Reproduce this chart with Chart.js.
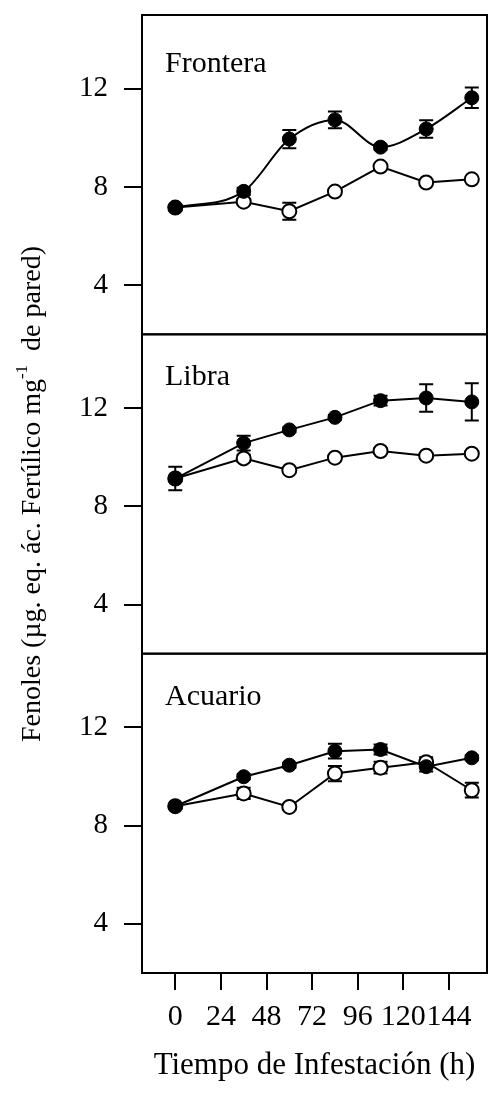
<!DOCTYPE html>
<html>
<head>
<meta charset="utf-8">
<script src="https://cdn.jsdelivr.net/npm/chart.js@4"></script>
<style>
  html, body { margin: 0; padding: 0; background: #fff; }
</style>
</head>
<body>
<canvas id="fenolesChart" width="488" height="1095"></canvas>
<script>
const times = [0, 36, 60, 84, 108, 132, 156];
const xTicks = [0, 24, 48, 72, 96, 120, 144];
const yTicks = [4, 8, 12];
const panelNames = ["Frontera", "Libra", "Acuario"];

// filled = black circles, open = white circles
const fronteraFilled = [7.16, 7.82, 9.95, 10.73, 9.62, 10.36, 11.63];
const fronteraFilledErr = [0.12, 0.15, 0.37, 0.34, 0.1, 0.36, 0.42];
const fronteraOpen = [7.16, 7.4, 7.01, 7.81, 8.83, 8.18, 8.31];
const fronteraOpenErr = [0.1, 0.1, 0.35, 0.1, 0.1, 0.1, 0.1];

const libraFilled = [9.13, 10.57, 11.11, 11.62, 12.3, 12.41, 12.25];
const libraFilledErr = [0.48, 0.3, 0.1, 0.1, 0.2, 0.56, 0.76];
const libraOpen = [9.13, 9.95, 9.47, 9.98, 10.25, 10.06, 10.14];
const libraOpenErr = [0.1, 0.15, 0.1, 0.1, 0.1, 0.1, 0.1];

const acuarioFilled = [8.79, 9.99, 10.46, 11.03, 11.1, 10.4, 10.76];
const acuarioFilledErr = [0.1, 0.1, 0.1, 0.3, 0.2, 0.2, 0.1];
const acuarioOpen = [8.79, 9.31, 8.76, 10.12, 10.36, 10.58, 9.44];
const acuarioOpenErr = [0.1, 0.23, 0.1, 0.31, 0.24, 0.2, 0.3];

const SERIF = "'Liberation Serif', 'Times New Roman', serif";
Chart.defaults.font.family = SERIF;
Chart.defaults.color = "#000";

const toPoints = vals => times.map((t, i) => ({ x: t, y: vals[i] }));

function series(vals, errs, axis, filled, smooth) {
  return {
    data: toPoints(vals),
    errors: errs,
    yAxisID: axis,
    borderColor: "#000",
    borderWidth: 2,
    backgroundColor: filled ? "#000" : "#fff",
    pointBackgroundColor: filled ? "#000" : "#fff",
    pointBorderColor: "#000",
    pointBorderWidth: filled ? 1 : 2,
    pointRadius: 7,
    cubicInterpolationMode: smooth ? "monotone" : "default",
    tension: 0,
    clip: false,
  };
}

function panelScale(weight) {
  return {
    type: "linear",
    position: "left",
    stack: "panels",
    stackWeight: 1,
    weight: weight,
    min: 2,
    max: 15,
    afterBuildTicks: s => { s.ticks = yTicks.map(v => ({ value: v })); },
    afterFit: s => {
      s.width = 82;
      s.paddingTop = 0;
      s.paddingBottom = 0;
    },
    grid: { drawOnChartArea: false, tickLength: 18, color: "#000", lineWidth: 2 },
    border: { display: true, color: "#000", width: 2 },
    ticks: { color: "#000", padding: 16, font: { size: 29 } },
  };
}

const errorBars = {
  id: "errorBars",
  beforeDatasetsDraw(chart) {
    const ctx = chart.ctx;
    ctx.save();
    ctx.strokeStyle = "#000";
    ctx.lineWidth = 2;
    chart.data.datasets.forEach((ds, di) => {
      const meta = chart.getDatasetMeta(di);
      const scale = chart.scales[ds.yAxisID];
      meta.data.forEach((pt, i) => {
        const v = ds.data[i].y, e = ds.errors[i];
        const y1 = scale.getPixelForValue(v + e);
        const y2 = scale.getPixelForValue(v - e);
        ctx.beginPath();
        ctx.moveTo(pt.x, y1); ctx.lineTo(pt.x, y2);
        ctx.moveTo(pt.x - 7, y1); ctx.lineTo(pt.x + 7, y1);
        ctx.moveTo(pt.x - 7, y2); ctx.lineTo(pt.x + 7, y2);
        ctx.stroke();
      });
    });
    ctx.restore();
  },
};

const panelFrames = {
  id: "panelFrames",
  beforeDatasetsDraw(chart) {
    const { ctx, chartArea } = chart;
    ctx.save();
    ctx.strokeStyle = "#000";
    ctx.lineWidth = 2;
    ctx.fillStyle = "#000";
    ctx.font = "30px " + SERIF;
    ctx.textBaseline = "alphabetic";
    ["yA", "yB", "yC"].forEach((id, i) => {
      const s = chart.scales[id];
      ctx.strokeRect(chartArea.left, s.top, chartArea.right - chartArea.left, s.bottom - s.top);
      ctx.fillText(panelNames[i], chartArea.left + 23, s.top + (i === 0 ? 57 : 51));
    });
    ctx.restore();
  },
};

const yTitle = {
  id: "yTitle",
  afterDraw(chart) {
    const { ctx, chartArea } = chart;
    const part1 = "Fenoles (µg. eq. ác. Ferúlico mg";
    const sup = "-1";
    const part2 = "  de pared)";
    ctx.save();
    ctx.translate(33, (chartArea.top + chartArea.bottom) / 2);
    ctx.rotate(-Math.PI / 2);
    ctx.fillStyle = "#000";
    ctx.textBaseline = "middle";
    ctx.font = "28px " + SERIF;
    const w1 = ctx.measureText(part1).width;
    const w3 = ctx.measureText(part2).width;
    ctx.font = "17px " + SERIF;
    const w2 = ctx.measureText(sup).width;
    let x = -(w1 + w2 + w3) / 2;
    ctx.font = "28px " + SERIF;
    ctx.fillText(part1, x, 0);
    x += w1;
    ctx.font = "17px " + SERIF;
    ctx.fillText(sup, x, -10);
    x += w2;
    ctx.font = "28px " + SERIF;
    ctx.fillText(part2, x, 0);
    ctx.restore();
  },
};

new Chart(document.getElementById("fenolesChart"), {
  type: "line",
  data: {
    datasets: [
      series(fronteraFilled, fronteraFilledErr, "yA", true, true),
      series(fronteraOpen, fronteraOpenErr, "yA", false, false),
      series(libraFilled, libraFilledErr, "yB", true, false),
      series(libraOpen, libraOpenErr, "yB", false, false),
      series(acuarioFilled, acuarioFilledErr, "yC", true, false),
      series(acuarioOpen, acuarioOpenErr, "yC", false, false),
    ],
  },
  options: {
    responsive: false,
    animation: false,
    layout: { autoPadding: false, padding: { left: 60, top: 15, right: 1, bottom: 7 } },
    plugins: { legend: { display: false }, tooltip: { enabled: false } },
    scales: {
      x: {
        type: "linear",
        position: "bottom",
        min: -17.5,
        max: 164,
        afterBuildTicks: s => { s.ticks = xTicks.map(v => ({ value: v })); },
        afterFit: s => {
          s.height = 115;
          s.paddingLeft = 0;
          s.paddingRight = 0;
        },
        grid: { drawOnChartArea: false, tickLength: 17, color: "#000", lineWidth: 2 },
        border: { color: "#000", width: 2 },
        ticks: { color: "#000", padding: 9, autoSkip: false, maxRotation: 0, minRotation: 0, font: { size: 30 } },
        title: {
          display: true,
          text: "Tiempo de Infestación (h)",
          color: "#000",
          font: { size: 31 },
          padding: { top: 4, bottom: 4 },
        },
      },
      yA: panelScale(3),
      yB: panelScale(2),
      yC: panelScale(1),
    },
  },
  plugins: [errorBars, panelFrames, yTitle],
});
</script>
</body>
</html>
